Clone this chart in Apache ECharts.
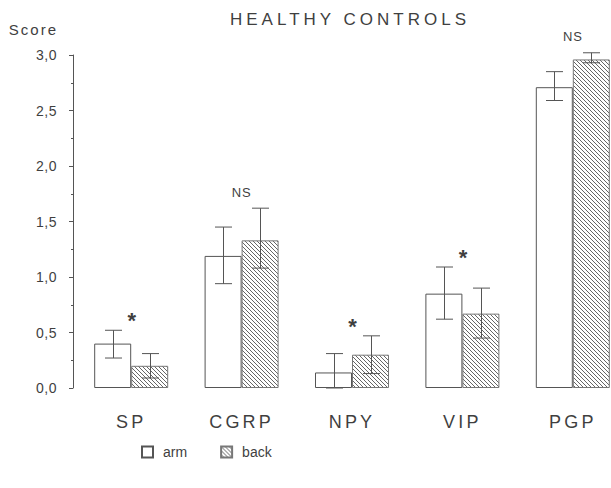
<!DOCTYPE html>
<html><head><meta charset="utf-8">
<script src="https://cdn.jsdelivr.net/npm/echarts@6/dist/echarts.min.js"></script>
<style>
html,body{margin:0;padding:0;background:#fff;}
#main{width:611px;height:488px;}
#main text[style*="lsTitle"]{letter-spacing:4px;}
#main text[style*="lsCat"]{letter-spacing:3.2px;}
#main text[style*="lsScore"]{letter-spacing:2px;}
#main text[style*="lsTick"]{letter-spacing:0.5px;}
#main text[style*="lsNote"]{letter-spacing:0.8px;}
</style></head>
<body><div id="main"></div>
<script>
// ---- data ----
const titleText = 'HEALTHY CONTROLS';
const yAxisName = 'Score';
const categories = ['SP', 'CGRP', 'NPY', 'VIP', 'PGP'];
const seriesNames = ['arm', 'back'];
const armMean  = [0.40, 1.19, 0.14, 0.85, 2.71];
const armLow   = [0.27, 0.94, 0.00, 0.62, 2.59];
const armHigh  = [0.52, 1.45, 0.31, 1.09, 2.85];
const backMean = [0.20, 1.33, 0.30, 0.67, 2.96];
const backLow  = [0.09, 1.08, 0.13, 0.45, 2.93];
const backHigh = [0.31, 1.62, 0.47, 0.90, 3.02];
const sigLabels = ['*', 'NS', '*', '*', 'NS'];

// ---- styling ----
const TXT = '#3f3f3f';
const LINE = '#555';
const FONT = 'Liberation Sans';

function makeHatch() {
  const s = 4, c = document.createElement('canvas');
  c.width = s; c.height = s;
  const ctx = c.getContext('2d');
  ctx.fillStyle = '#fff'; ctx.fillRect(0, 0, s, s);
  ctx.strokeStyle = '#666'; ctx.lineWidth = 1;
  ctx.beginPath();
  ctx.moveTo(-1, -1); ctx.lineTo(s + 1, s + 1);
  ctx.moveTo(-1, s - 1); ctx.lineTo(1, s + 1);
  ctx.moveTo(s - 1, -1); ctx.lineTo(s + 1, 1);
  ctx.stroke();
  return { image: c.toDataURL(), repeat: 'repeat', imageWidth: s, imageHeight: s };
}
const hatch = makeHatch();

function errRender(dx) {
  return function (params, api) {
    const i = api.value(0);
    const lo = api.coord([i, api.value(1)]);
    const hi = api.coord([i, api.value(2)]);
    const x = Math.round(lo[0] + dx) + 0.5;
    const hw = 8.5;
    const st = { stroke: LINE, lineWidth: 1 };
    return { type: 'group', children: [
      { type: 'line', shape: { x1: x, y1: lo[1], x2: x, y2: hi[1] }, style: st },
      { type: 'line', shape: { x1: x - hw, y1: hi[1], x2: x + hw, y2: hi[1] }, style: st },
      { type: 'line', shape: { x1: x - hw, y1: lo[1], x2: x + hw, y2: lo[1] }, style: st }
    ]};
  };
}

const chart = echarts.init(document.getElementById('main'), null, { renderer: 'svg' });
chart.setOption({
  animation: false,
  backgroundColor: '#fff',
  title: {
    text: titleText, left: 230, top: 11, padding: 0,
    textStyle: { fontFamily: FONT + ', lsTitle', fontSize: 17, fontWeight: 'normal', color: TXT }
  },
  legend: {
    data: seriesNames, left: 141, top: 445, padding: 0, itemWidth: 11, itemHeight: 11, itemGap: 33,
    icon: 'rect', selectedMode: false,
    textStyle: { fontFamily: FONT + ', lsLeg', fontSize: 14, color: TXT, padding: [0, 0, 0, 5] }
  },
  grid: { left: 76, top: 55, width: 552, height: 333, outerBoundsMode: 'none', containLabel: false },
  xAxis: {
    type: 'category', data: categories,
    axisLine: { show: false }, axisTick: { show: false }, splitLine: { show: false },
    axisLabel: { interval: 0, margin: 25, fontFamily: FONT + ', lsCat', fontSize: 18, color: TXT }
  },
  yAxis: {
    type: 'value', min: 0, max: 3, interval: 0.5, offset: 3,
    name: yAxisName, nameLocation: 'end', nameGap: 18,
    nameTextStyle: { fontFamily: FONT + ', lsScore', fontSize: 15, color: TXT, align: 'right', padding: [0, 15, 0, 0] },
    axisLine: { show: true, lineStyle: { color: LINE, width: 1 } },
    axisTick: { show: true, length: 4, lineStyle: { color: LINE } },
    minorTick: { show: true, splitNumber: 2, length: 2, lineStyle: { color: LINE } },
    splitLine: { show: false }, minorSplitLine: { show: false },
    axisLabel: { formatter: v => v.toFixed(1).replace('.', ','), margin: 16, fontFamily: FONT + ', lsTick', fontSize: 14, color: TXT }
  },
  series: [
    { name: seriesNames[0], type: 'bar', data: armMean, barWidth: 37, barGap: '0%',
      itemStyle: { color: '#fff', borderColor: LINE, borderWidth: 1 } },
    { name: seriesNames[1], type: 'bar', data: backMean, barWidth: 37, barGap: '0%',
      itemStyle: { color: hatch, borderColor: '#777', borderWidth: 1 } },
    { type: 'custom', name: 'armErr', z: 5, renderItem: errRender(-18.5),
      encode: { x: 0, y: [1, 2] },
      data: categories.map((c, i) => [i, armLow[i], armHigh[i]]) },
    { type: 'custom', name: 'backErr', z: 5, renderItem: errRender(18.5),
      encode: { x: 0, y: [1, 2] },
      data: categories.map((c, i) => [i, backLow[i], backHigh[i]]) },
    { type: 'custom', name: 'sig', z: 6,
      encode: { x: 0, y: 1 },
      data: categories.map((c, i) => [i, Math.max(armHigh[i], backHigh[i])]),
      renderItem: function (params, api) {
        const i = params.dataIndex;
        const p = api.coord([api.value(0), api.value(1)]);
        const star = sigLabels[i] === '*';
        return { type: 'text', x: p[0] + (star ? 1 : 0), y: p[1] - (star ? 14 : 16) + (star ? 4.5 : 0),
          style: { text: sigLabels[i], align: 'center', verticalAlign: 'middle',
            fontFamily: FONT + ', lsNote', fontSize: star ? 22 : 13, fontWeight: star ? 'bold' : 'normal', fill: TXT } };
      } }
  ]
});
</script>
</body></html>
